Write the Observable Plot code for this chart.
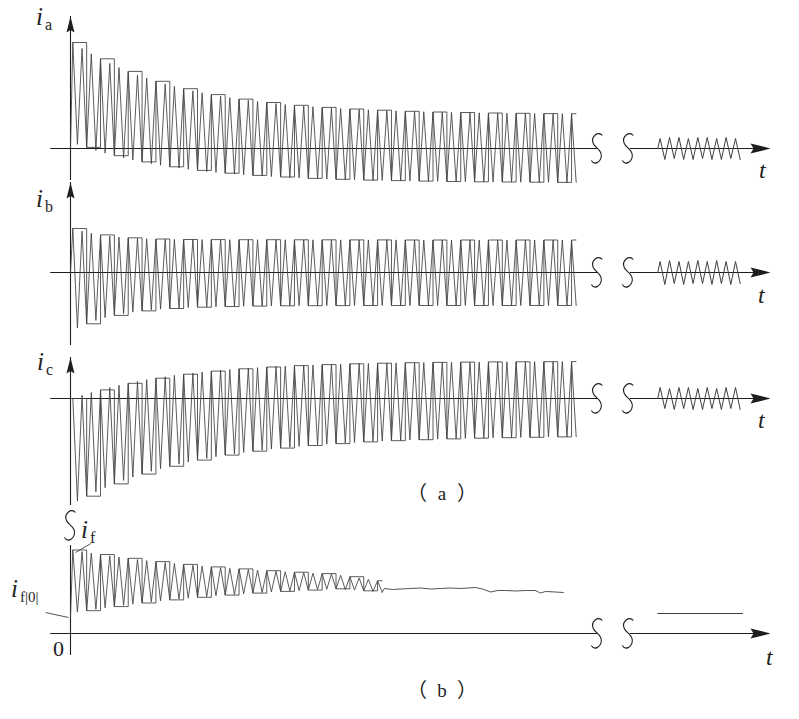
<!DOCTYPE html>
<html><head><meta charset="utf-8">
<script src="https://cdn.jsdelivr.net/npm/d3@7"></script>
<script src="https://cdn.jsdelivr.net/npm/@observablehq/plot@0.6"></script>
<style>
html,body{margin:0;padding:0;background:#fff;}
#fig{position:relative;width:799px;height:719px;overflow:hidden;background:#fff;}
#fig .panel{position:absolute;left:0;}
#fig svg{overflow:visible;background:transparent;}
</style></head><body><div id="fig"></div>
<script>
// ---------- data (arbitrary current units) ----------
const mainCycles = 55;            // cycles drawn in the main window t = 0..100
const tMainEnd = 100;
const iaTops = [106,100,94.7,89.7,85.1,80.9,77.1,73.5,70.3,67.2,64.5,62.1,59.8,57.6,55.7,53.9,52.3,50.8,49.4,48.2,47.0,46.0,44.9,44.0,43.2,42.5,41.8,41.1,40.5,40.0,39.5,39.1,38.7,38.3,37.9,37.6,37.2,37.0,36.8,36.5,36.3,36.1,36.0,35.8,35.7,35.5,35.4,35.3,35.2,35.1,35.0,34.9,34.9,34.8,34.8];
const iaBottoms = [4.2,1.1,-1.9,-4.7,-7.2,-9.4,-11.5,-13.4,-15.2,-16.7,-18.3,-19.6,-20.8,-21.9,-23.0,-23.9,-24.7,-25.5,-26.2,-26.9,-27.5,-28.0,-28.5,-29.0,-29.4,-29.9,-30.2,-30.5,-30.8,-31.1,-31.3,-31.6,-31.8,-31.9,-32.1,-32.3,-32.5,-32.6,-32.7,-32.8,-33.0,-33.1,-33.2,-33.3,-33.4,-33.5,-33.5,-33.6,-33.7,-33.7,-33.8,-33.8,-33.9,-33.9,-33.9];
const ibTops = [44,41.3,39.2,37.6,36.4,35.4,34.7,34.2,33.8,33.5,33.3,33.1,33.0,33.0,32.9,32.9,32.9,32.8,32.8,32.8,32.8,32.8,32.7,32.7,32.7,32.7,32.7,32.7,32.6,32.6,32.6,32.6,32.6,32.6,32.6,32.6,32.5,32.5,32.5,32.5,32.5,32.5,32.5,32.5,32.5,32.5,32.5,32.5,32.5,32.5,32.5,32.5,32.5,32.5,32.5];
const ibBottoms = [-55.5,-51.3,-47.9,-45.1,-42.9,-41.1,-39.6,-38.4,-37.4,-36.6,-36.0,-35.5,-35.0,-34.7,-34.4,-34.2,-34.0,-33.8,-33.7,-33.6,-33.5,-33.4,-33.3,-33.3,-33.2,-33.2,-33.1,-33.1,-33.1,-33.0,-33.0,-33.0,-33.0,-33.0,-33.0,-33.0,-33.0,-33.0,-33.0,-33.0,-33.0,-33.0,-33.0,-33.0,-33.0,-33.0,-33.0,-33.0,-33.0,-33.0,-33.0,-33.0,-33.0,-33.0,-33.0];
const icTops = [0,3.1,6.0,8.6,11.0,13.2,15.2,17.1,18.8,20.3,21.8,23.1,24.3,25.4,26.5,27.4,28.2,29.0,29.7,30.3,30.9,31.5,32.0,32.5,32.9,33.2,33.5,33.9,34.2,34.4,34.7,34.9,35.1,35.3,35.4,35.6,35.8,35.9,36.0,36.1,36.2,36.3,36.4,36.4,36.5,36.6,36.6,36.7,36.7,36.7,36.8,36.8,36.8,36.9,36.9];
const icBottoms = [-102.4,-97.7,-93.3,-89.2,-85.4,-81.9,-78.6,-75.6,-72.8,-70.2,-67.8,-65.6,-63.5,-61.6,-59.9,-58.2,-56.6,-55.2,-53.9,-52.7,-51.6,-50.5,-49.6,-48.7,-47.8,-47.0,-46.3,-45.7,-45.1,-44.5,-44.0,-43.4,-43.0,-42.6,-42.2,-41.9,-41.5,-41.2,-40.9,-40.6,-40.4,-40.1,-39.9,-39.7,-39.5,-39.3,-39.2,-39.0,-38.9,-38.8,-38.6,-38.5,-38.4,-38.3,-38.2];
// steady-state window (after the axis break)
const tRightStart = 115.6, tRightEnd = 132.3;
const iaRightTops = [10,11,11,10,11,11,10,11,10];
const iaRightBottoms = [-11,-10,-11,-11,-10,-11,-11,-10,-11];
const ibRightTops = [11,12,11,11,12,11,12,11,11];
const ibRightBottoms = [-12,-11,-12,-11,-11,-12,-11,-12,-11];
const icRightTops = [11,10,11,11,10,11,10,11,11];
const icRightBottoms = [-10,-11,-10,-11,-11,-10,-11,-10,-11];
// field current
const ifStart = 16;   // i_f|0|
const ifFinal = 20;   // steady value after the break
const ifTops = [83.5,81.9,80.4,79.0,77.7,76.4,75.2,74.0,72.9,71.9,70.9,70.0,69.1,68.2,67.4,66.6,65.9,65.2,64.6,63.9,63.3,62.8,62.2,61.7,61.3,60.8,60.3,59.9,59.5,58.2,56.8,55.5,54.1,52.8];
const ifBottoms = [21.3,22.8,24.3,25.7,26.9,28.2,29.4,30.5,31.6,32.6,33.6,34.5,35.3,36.2,37.0,37.8,38.4,39.1,39.7,40.4,41.0,41.5,42.1,42.5,42.9,43.4,43.9,44.3,44.7,44.0,43.4,42.7,42.1,41.3];
const ifTailT = [61.8,63.4,65.0,66.9,68.9,70.9,72.8,74.8,76.8,78.3,79.7,81.1,82.7,84.1,85.6,87.6,89.6,91.5,92.5,93.5,95.5,97.0];
const ifTailV = [45,44,44.5,45,45.5,44.5,45,45.5,45,45.5,46,44.5,41.5,43,43,42.5,43,43,40.5,42,41.5,41];
// labels
const phaseNames = ["a","b","c"];
const fieldSub = "f", fieldZeroSub = "f|0|";
const originLabel = "0", timeLabel = "t";
const captionLetters = ["a","b"];
const parenL = "（", parenR = "）";

// ---------- geometry helpers (axis decoration in data units) ----------
const AXIS_START = -3.9, BREAK_1 = 103.9, BREAK_2 = 110.2, ARROW_T = 137.8;
const AX = "#1e1e1e", WV = "#404040";
const SERIF = "'Liberation Serif', 'Times New Roman', serif";
const CJK = "'Noto Sans CJK SC', sans-serif";

function zigzag(tops, bottoms, t0, period, start) {
  const pts = [{t: t0, v: start}];
  tops.forEach((top, k) => {
    pts.push({t: t0 + (k + 0.25) * period, v: top});
    pts.push({t: t0 + (k + 0.75) * period, v: bottoms[k]});
  });
  return pts;
}
function frames(pts, every) {
  const half = pts.slice(1);
  const f = half.filter((d, i) => i % every === 0);
  f.push({t: half[half.length - 1].t, v: f[f.length - 1].v});
  return f;
}
const arrowHead = {draw(ctx, size) {
  const r = Math.sqrt(size / Math.PI), L = 2 * r, w = 0.5 * r;
  ctx.moveTo(0, 0); ctx.lineTo(w, L); ctx.lineTo(0, 0.85 * L); ctx.lineTo(-w, L); ctx.closePath();
}};
const breakS = {draw(ctx, size) {
  const s = Math.sqrt(size / Math.PI) / 15;
  ctx.moveTo(5 * s, -13 * s);
  ctx.bezierCurveTo(1 * s, -18 * s, -7 * s, -12 * s, -4 * s, -5 * s);
  ctx.bezierCurveTo(-2 * s, 0, 5 * s, 1 * s, 4 * s, 8 * s);
  ctx.bezierCurveTo(3 * s, 14 * s, -3 * s, 17 * s, -6 * s, 12 * s);
}};

const fig = document.getElementById("fig");
function place(svg, top) {
  const d = document.createElement("div");
  d.className = "panel"; d.style.top = top + "px";
  d.appendChild(svg); fig.appendChild(d);
}
function axisMarks() {
  return [
    Plot.ruleY([0], {x1: AXIS_START, x2: BREAK_1, stroke: AX, strokeWidth: 1.1}),
    Plot.ruleY([0], {x1: BREAK_2, x2: ARROW_T - 2, stroke: AX, strokeWidth: 1.1}),
    Plot.dot([{t: ARROW_T, v: 0}], {x: "t", y: "v", symbol: arrowHead, r: 10, rotate: 90, fill: AX, stroke: "none"}),
    Plot.dot([BREAK_1 - 0.2, BREAK_2 - 0.4], {x: d => d, y: () => 0, symbol: breakS, r: 15, fill: "none", stroke: AX, strokeWidth: 1.1})
  ];
}

const period = tMainEnd / mainCycles;
const rightPeriod = (tRightEnd - tRightStart) / iaRightTops.length;
const FRAME_EVERY = 3;
const phasePanels = [
  {top: 0, height: 180, base: 148, tip: 16, tops: iaTops, bottoms: iaBottoms, rt: iaRightTops, rb: iaRightBottoms},
  {top: 180, height: 165, base: 92, tip: 2, tops: ibTops, bottoms: ibBottoms, rt: ibRightTops, rb: ibRightBottoms},
  {top: 345, height: 160, base: 53, tip: 12, tops: icTops, bottoms: icBottoms, rt: icRightTops, rb: icRightBottoms}
];
phasePanels.forEach(p => {
  const zig = zigzag(p.tops, p.bottoms, 0, period, 0);
  const rz = zigzag(p.rt, p.rb, tRightStart, rightPeriod, 0);
  const svg = Plot.plot({
    width: 799, height: p.height,
    marginTop: p.tip, marginBottom: 0, marginLeft: 0, marginRight: 0,
    x: {domain: [0, 100], range: [70, 578], axis: null},
    y: {domain: [0, 100], range: [p.base, p.base - 100], axis: null},
    style: {background: "transparent", overflow: "visible"},
    marks: [
      Plot.ruleX([0], {stroke: AX, strokeWidth: 1.1}),
      ...axisMarks(),
      Plot.dot([0], {x: d => d, frameAnchor: "top", symbol: arrowHead, r: 8, fill: AX, stroke: "none"}),
      Plot.line(zig, {x: "t", y: "v", stroke: WV, strokeWidth: 0.85}),
      Plot.line(frames(zig, FRAME_EVERY), {x: "t", y: "v", curve: "step-after", stroke: WV, strokeWidth: 0.85}),
      Plot.line(rz, {x: "t", y: "v", stroke: WV, strokeWidth: 1})
    ]
  });
  place(svg, p.top);
});

// field current panel
{
  const top = 505, height = 214, base = 128;
  const zig = zigzag(ifTops, ifBottoms, 0, period, ifStart);
  const tail = ifTailT.map((t, i) => ({t, v: ifTailV[i]}));
  const fin = [{t: tRightStart, v: ifFinal}, {t: tRightEnd, v: ifFinal}];
  const leaders = [
    {x1: -4.9, y1: 21, x2: -0.4, y2: ifStart},
    {x1: 1.0, y1: 81, x2: 4.0, y2: 90}
  ];
  const svg = Plot.plot({
    width: 799, height,
    marginTop: 40, marginBottom: 64, marginLeft: 0, marginRight: 0,
    x: {domain: [0, 100], range: [70, 578], axis: null},
    y: {domain: [0, 100], range: [base, base - 100], axis: null},
    style: {background: "transparent", overflow: "visible"},
    marks: [
      Plot.ruleX([0], {stroke: AX, strokeWidth: 1.1}),
      Plot.dot([0], {x: d => d, frameAnchor: "top", dy: -20, symbol: breakS, r: 15, fill: "none", stroke: AX, strokeWidth: 1.1}),
      ...axisMarks(),
      Plot.line(zig, {x: "t", y: "v", stroke: WV, strokeWidth: 0.85}),
      Plot.line(frames(zig, FRAME_EVERY), {x: "t", y: "v", curve: "step-after", stroke: WV, strokeWidth: 0.85}),
      Plot.line([zig[zig.length - 1], ...tail], {x: "t", y: "v", stroke: WV, strokeWidth: 0.9}),
      Plot.line(fin, {x: "t", y: "v", stroke: WV, strokeWidth: 1}),
      Plot.link(leaders, {x1: "x1", y1: "y1", x2: "x2", y2: "y2", stroke: WV, strokeWidth: 0.9})
    ]
  });
  place(svg, top);
}

// ---------- text labels ----------
const ov = d3.select(fig).append("svg").attr("width", 799).attr("height", 719)
  .style("position", "absolute").style("left", 0).style("top", 0).style("pointer-events", "none");
function txt(x, y, s, size, opts = {}) {
  const t = ov.append("text").attr("x", x).attr("y", y)
    .attr("font-family", opts.family || SERIF).attr("font-size", size).attr("fill", "#222");
  if (opts.italic) t.attr("font-style", "italic");
  if (opts.anchor) t.attr("text-anchor", opts.anchor);
  t.text(s);
  return t;
}
function cur(x, y, sub, size = 25, subSize = 16) {
  txt(x, y, "i", size, {italic: true});
  txt(x + 0.36 * size, y + 5, sub, subSize);
}
const phaseLabelPos = [[36, 25], [36, 207], [37, 370]];
phaseNames.forEach((n, i) => cur(phaseLabelPos[i][0], phaseLabelPos[i][1], n));
cur(81, 538, fieldSub);
cur(11, 597, fieldZeroSub, 25, 15);
txt(53, 656, originLabel, 22);
[[759, 178], [758, 303], [758, 428], [766, 665]].forEach(([x, y]) => txt(x, y, timeLabel, 24, {italic: true}));
[[442, 500], [442, 697]].forEach(([cx, y], i) => {
  txt(cx - 35, y, parenL, 20, {family: CJK});
  txt(cx, y, captionLetters[i], 19, {anchor: "middle"});
  txt(cx + 15, y, parenR, 20, {family: CJK});
});
</script></body></html>
